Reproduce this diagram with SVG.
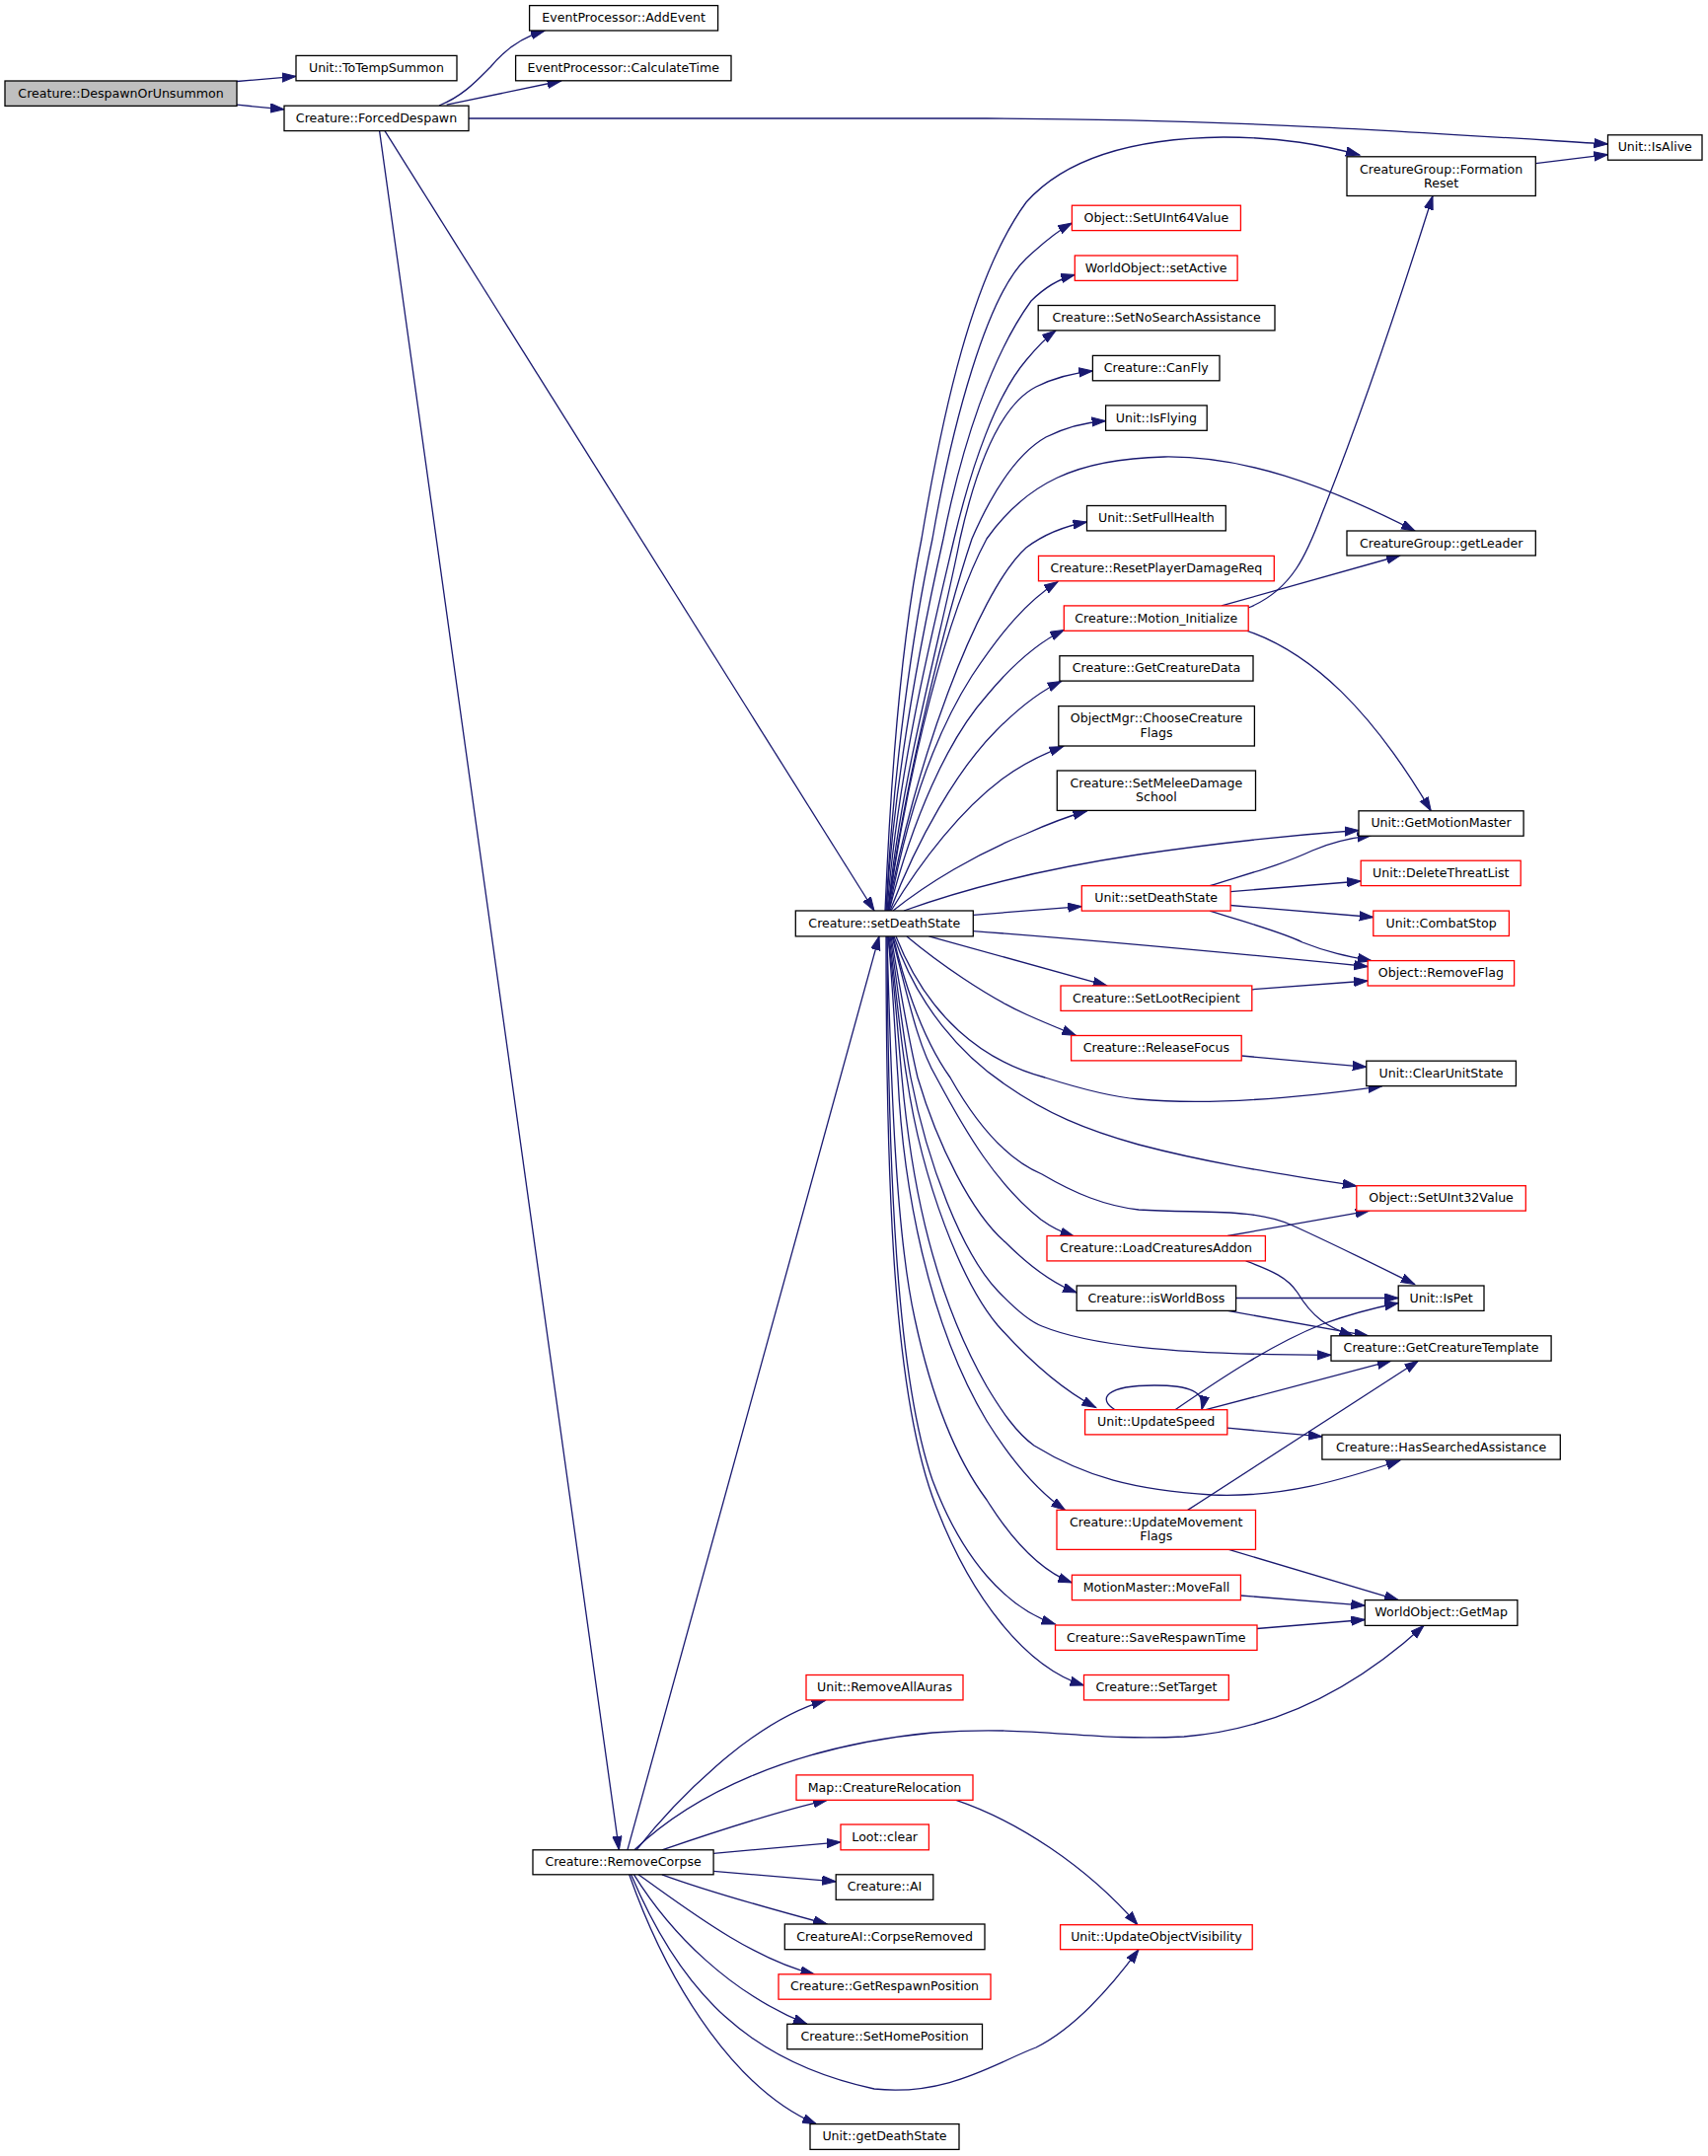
<svg xmlns="http://www.w3.org/2000/svg" width="1731" height="2185" viewBox="0 0 1731 2185">
<defs>
<marker id="ah" markerWidth="16" markerHeight="12" refX="14" refY="5" orient="auto" markerUnits="userSpaceOnUse"><path d="M0,0.4 L14,5 L0,9.6 Z" fill="#191970" stroke="#191970" stroke-width="1"/></marker>
</defs>
<style>
.n rect{fill:#ffffff;stroke:#000000;stroke-width:1.3}
.n.r rect{stroke:#ff0000}
.n.root rect{fill:#bfbfbf;stroke:#000000}
.n text{font-family:"DejaVu Sans","Liberation Sans",sans-serif;font-size:12.6px;text-anchor:middle;fill:#000000}
#edges path{fill:none;stroke:#191970;stroke-width:1.3;marker-end:url(#ah)}
</style>
<rect x="0" y="0" width="1731" height="2185" fill="#ffffff"/>
<g id="edges">
<path d="M240,82.5 L300,77.3"/>
<path d="M240,106.2 L288,110.8"/>
<path d="M445,107 C470,97 485,80 497,68 C510,52 528,38 552,31.2"/>
<path d="M452.7,106.2 L568.6,82"/>
<path d="M475,120 L1000,120 C1250,121 1420,133 1629.5,146"/>
<path d="M390,132.7 L886,923"/>
<path d="M384.6,132.7 L627.4,1874.8"/>
<path d="M1556.3,165.7 L1629.5,156.7"/>
<path d="M897,923 C903,780 915,640 934,546 C955,420 985,280 1040,205 C1080,160 1150,140 1240,139 C1300,139 1340,147 1378,157"/>
<path d="M898,923 C905,780 925,640 945,546 C965,430 1000,300 1040,262 C1055,248 1070,235 1086.4,226"/>
<path d="M898,923 C907,780 935,640 956,546 C975,450 1005,360 1045,305 C1058,292 1072,283 1089.3,278.5"/>
<path d="M899,923 C910,780 945,640 967,546 C985,470 1010,400 1040,365 C1050,353 1059,343 1070,335"/>
<path d="M900,923 C912,790 955,640 973,546 C990,470 1015,410 1050,392 C1070,382 1088,378 1107.4,376"/>
<path d="M900,923 C915,800 960,620 985,546 C1005,500 1030,460 1060,443 C1080,433 1100,428 1120.6,426.5"/>
<path d="M900,923 C920,780 960,620 1000,546 C1040,490 1090,465 1180,463 C1260,462 1340,490 1434,538"/>
<path d="M900,923 C925,780 990,600 1040,555 C1060,540 1080,533 1101.5,529"/>
<path d="M901,923 C920,820 950,740 985,685 C1015,640 1040,610 1072,589.5"/>
<path d="M901,923 C925,830 960,750 1000,705 C1025,675 1050,652 1078.3,638.5"/>
<path d="M902,923 C930,850 970,780 1010,740 C1035,715 1055,700 1075.7,690.5"/>
<path d="M903,923 C935,870 975,820 1015,790 C1035,775 1055,765 1077.5,756.5"/>
<path d="M905,923 C940,895 990,865 1040,845 C1060,836 1080,828 1101.5,822"/>
<path d="M916,923 C980,900 1060,880 1154,866 C1230,855 1300,847 1377,841.5"/>
<path d="M986.3,927.3 L1096.3,918.6"/>
<path d="M986.3,943.6 C1100,952 1250,966 1386.2,979.5"/>
<path d="M941.4,948.9 L1121.7,998.8"/>
<path d="M919,949 C950,975 1000,1010 1040,1028 C1060,1037 1075,1043 1090.4,1049.3"/>
<path d="M908,949 C940,1030 995,1075 1059,1092 C1100,1105 1130,1112 1154,1114 C1220,1120 1300,1115 1400.6,1100.8"/>
<path d="M906,949 C930,1020 975,1070 1020,1100 C1060,1128 1100,1145 1154,1160 C1230,1180 1300,1190 1374.8,1202"/>
<path d="M905,949 C920,1010 940,1060 963,1092 C990,1140 1020,1175 1056,1190 C1090,1210 1120,1222 1154,1226 C1220,1230 1270,1224 1310,1242 C1350,1260 1390,1280 1433.7,1301.5"/>
<path d="M904,949 C920,1010 930,1060 949,1092 C980,1150 1010,1200 1055,1236 C1066,1244 1076,1249 1088.6,1253"/>
<path d="M903,949 C912,1000 920,1050 930,1092 C950,1160 985,1230 1019,1259 C1040,1280 1065,1300 1091.2,1310"/>
<path d="M902,949 C910,1000 915,1050 923,1092 C940,1180 975,1270 1011,1308 C1030,1328 1045,1340 1056,1344 C1100,1362 1180,1373 1349,1373.3"/>
<path d="M901,949 C908,1000 912,1050 919,1092 C935,1200 975,1300 1011,1343 C1035,1370 1070,1405 1110.7,1426.5"/>
<path d="M900,949 C907,1000 910,1050 914,1092 C922,1180 940,1300 1000,1405 C1015,1430 1030,1452 1048,1465 C1100,1497 1150,1510 1228,1515 C1300,1518 1360,1500 1419,1480"/>
<path d="M900,949 C905,1000 907,1050 910,1092 C915,1200 940,1340 1000,1440 C1025,1480 1050,1510 1079.4,1530.4"/>
<path d="M899,949 C903,1100 908,1250 927,1336 C945,1420 970,1480 1000,1520 C1025,1560 1055,1592 1086.4,1604"/>
<path d="M899,949 C900,1200 910,1400 945,1500 C975,1580 1020,1630 1069.5,1646"/>
<path d="M898,949 C898,1200 905,1420 950,1530 C985,1620 1040,1690 1098.5,1708"/>
<path d="M1265,616 C1310,598 1325,560 1340,520 C1380,420 1420,300 1452,198.5"/>
<path d="M1238,613.9 L1419,563"/>
<path d="M1264,639.3 C1330,662 1390,720 1450.3,821.8"/>
<path d="M1226,897.7 C1270,884 1300,876 1330,862 C1350,853 1370,849 1389.6,846.8"/>
<path d="M1247.1,903.6 L1379.2,893"/>
<path d="M1247.1,917.5 L1391.8,929.5"/>
<path d="M1226,923.1 C1270,937 1300,945 1320,955 C1345,965 1365,969 1390,973.6"/>
<path d="M1268.8,1002.8 L1386.2,994"/>
<path d="M1258.2,1070 L1384.8,1081.3"/>
<path d="M1244.2,1252.5 L1387.7,1227.1"/>
<path d="M1262.6,1277.9 C1290,1288 1305,1295 1315,1310 C1330,1335 1345,1345 1371.2,1353.8"/>
<path d="M1252.6,1315.5 L1417.2,1315.5"/>
<path d="M1244.2,1328.4 L1386.6,1353.8"/>
<path d="M1130,1428.7 C1112,1418 1120,1404 1170,1404 C1205,1404 1222,1410 1218,1428.7"/>
<path d="M1191,1428.7 C1240,1395 1290,1362 1340,1342 C1370,1331 1395,1325 1417.2,1320.5"/>
<path d="M1222,1428.7 L1409.8,1379.2"/>
<path d="M1243.8,1447.2 L1339.9,1455.9"/>
<path d="M1203.7,1530.4 L1437.4,1379.2"/>
<path d="M1245.3,1570.4 L1417.2,1621.6"/>
<path d="M1257.4,1617 L1383.3,1627.2"/>
<path d="M1274,1650.5 L1383.3,1641.5"/>
<path d="M635.9,1874.8 L891,948.9"/>
<path d="M645,1874.8 C680,1830 760,1745 836.5,1723.3"/>
<path d="M643,1874.8 C700,1820 800,1770 945,1756 C1050,1748 1100,1765 1200,1760 C1300,1752 1380,1705 1443,1647.4"/>
<path d="M670.9,1874.8 C720,1858 790,1835 838.3,1824.3"/>
<path d="M723.1,1878.3 L852,1866.8"/>
<path d="M723.1,1896.4 L847.2,1906.8"/>
<path d="M670.9,1899.8 C720,1918 790,1937 838.3,1950"/>
<path d="M647,1899.8 C690,1930 760,1985 825.4,2000.8"/>
<path d="M642.5,1899.8 C680,1960 740,2020 818,2051.3"/>
<path d="M639.6,1899.8 C690,2020 760,2090 886,2117 C960,2125 1010,2090 1050,2075 C1090,2055 1125,2015 1154,1975.7"/>
<path d="M637.7,1899.8 C680,2020 750,2120 827.3,2152.6"/>
<path d="M969,1824.3 C1030,1845 1100,1890 1153,1950.7"/>
</g>
<g id="n1" class="n root"><rect x="5" y="82" width="235" height="25.4"/><text x="122.5" y="98.6">Creature::DespawnOrUnsummon</text></g>
<g id="n2" class="n"><rect x="300" y="56.4" width="163" height="25.4"/><text x="381.5" y="73">Unit::ToTempSummon</text></g>
<g id="n3" class="n"><rect x="288" y="107.2" width="187" height="25.4"/><text x="381.5" y="123.8">Creature::ForcedDespawn</text></g>
<g id="n4" class="n"><rect x="536.6" y="5.6" width="191" height="25.4"/><text x="632.1" y="22.2">EventProcessor::AddEvent</text></g>
<g id="n5" class="n"><rect x="522.6" y="56.4" width="218.4" height="25.4"/><text x="631.8" y="73">EventProcessor::CalculateTime</text></g>
<g id="n6" class="n"><rect x="1629.5" y="136.8" width="95.5" height="25.4"/><text x="1677.25" y="153.4">Unit::IsAlive</text></g>
<g id="n7" class="n"><rect x="1365" y="158.8" width="191.3" height="39.7"/><text x="1460.65" y="175.6">CreatureGroup::Formation</text><text x="1460.65" y="189.8">Reset</text></g>
<g id="n8" class="n"><rect x="1365" y="538" width="191.3" height="25"/><text x="1460.65" y="554.6">CreatureGroup::getLeader</text></g>
<g id="n9" class="n r"><rect x="1086.4" y="208.2" width="171" height="25.4"/><text x="1171.9" y="224.8">Object::SetUInt64Value</text></g>
<g id="n10" class="n r"><rect x="1089.3" y="259" width="164.8" height="25.4"/><text x="1171.7" y="275.6">WorldObject::setActive</text></g>
<g id="n11" class="n"><rect x="1052.2" y="309.5" width="239.8" height="25.4"/><text x="1172.1" y="326.1">Creature::SetNoSearchAssistance</text></g>
<g id="n12" class="n"><rect x="1107.4" y="360.4" width="128.6" height="25.4"/><text x="1171.7" y="377">Creature::CanFly</text></g>
<g id="n13" class="n"><rect x="1120.6" y="410.9" width="102.6" height="25.4"/><text x="1171.9" y="427.5">Unit::IsFlying</text></g>
<g id="n14" class="n"><rect x="1101.5" y="512.5" width="140.8" height="25.4"/><text x="1171.9" y="529.1">Unit::SetFullHealth</text></g>
<g id="n15" class="n r"><rect x="1052.5" y="563.4" width="238.8" height="25.4"/><text x="1171.9" y="580">Creature::ResetPlayerDamageReq</text></g>
<g id="n16" class="n r"><rect x="1078.3" y="613.9" width="186.9" height="25.4"/><text x="1171.75" y="630.5">Creature::Motion_Initialize</text></g>
<g id="n17" class="n"><rect x="1073.9" y="664.7" width="196.1" height="25.4"/><text x="1171.95" y="681.3">Creature::GetCreatureData</text></g>
<g id="n18" class="n"><rect x="1072.8" y="715.6" width="198.6" height="40.4"/><text x="1172.1" y="732.4">ObjectMgr::ChooseCreature</text><text x="1172.1" y="746.6">Flags</text></g>
<g id="n19" class="n"><rect x="1071.3" y="781" width="201.2" height="40.4"/><text x="1171.9" y="797.8">Creature::SetMeleeDamage</text><text x="1171.9" y="812">School</text></g>
<g id="n20" class="n r"><rect x="1096.3" y="897.7" width="150.8" height="25.4"/><text x="1171.7" y="914.3">Unit::setDeathState</text></g>
<g id="n21" class="n r"><rect x="1075" y="999" width="193.8" height="25.4"/><text x="1171.9" y="1015.6">Creature::SetLootRecipient</text></g>
<g id="n22" class="n r"><rect x="1085.6" y="1049.5" width="172.6" height="25.4"/><text x="1171.9" y="1066.1">Creature::ReleaseFocus</text></g>
<g id="n23" class="n"><rect x="806.3" y="923" width="180" height="25.9"/><text x="896.3" y="939.8">Creature::setDeathState</text></g>
<g id="n24" class="n"><rect x="1377" y="821.8" width="167.1" height="25.4"/><text x="1460.55" y="838.4">Unit::GetMotionMaster</text></g>
<g id="n25" class="n r"><rect x="1379.2" y="872.2" width="162" height="25.4"/><text x="1460.2" y="888.8">Unit::DeleteThreatList</text></g>
<g id="n26" class="n r"><rect x="1391.8" y="923.1" width="137.6" height="25.4"/><text x="1460.6" y="939.7">Unit::CombatStop</text></g>
<g id="n27" class="n r"><rect x="1386.2" y="973.6" width="148.4" height="25.4"/><text x="1460.4" y="990.2">Object::RemoveFlag</text></g>
<g id="n28" class="n"><rect x="1384.8" y="1075.2" width="151.6" height="25.4"/><text x="1460.6" y="1091.8">Unit::ClearUnitState</text></g>
<g id="n29" class="n r"><rect x="1374.8" y="1201.7" width="171.5" height="25.4"/><text x="1460.55" y="1218.3">Object::SetUInt32Value</text></g>
<g id="n30" class="n"><rect x="1417.2" y="1303" width="86.8" height="25.4"/><text x="1460.6" y="1319.6">Unit::IsPet</text></g>
<g id="n31" class="n"><rect x="1349" y="1353.8" width="223.1" height="25.4"/><text x="1460.55" y="1370.4">Creature::GetCreatureTemplate</text></g>
<g id="n32" class="n"><rect x="1339.9" y="1454.1" width="241.4" height="25"/><text x="1460.6" y="1470.7">Creature::HasSearchedAssistance</text></g>
<g id="n33" class="n"><rect x="1383.3" y="1621.6" width="154.6" height="25.8"/><text x="1460.6" y="1638.2">WorldObject::GetMap</text></g>
<g id="n34" class="n r"><rect x="1061" y="1252.5" width="221.4" height="25.4"/><text x="1171.7" y="1269.1">Creature::LoadCreaturesAddon</text></g>
<g id="n35" class="n"><rect x="1091.2" y="1303" width="161.4" height="25.4"/><text x="1171.9" y="1319.6">Creature::isWorldBoss</text></g>
<g id="n36" class="n r"><rect x="1099.6" y="1428.7" width="144.2" height="25.2"/><text x="1171.7" y="1445.3">Unit::UpdateSpeed</text></g>
<g id="n37" class="n r"><rect x="1071" y="1530.4" width="201.5" height="40"/><text x="1171.75" y="1547.2">Creature::UpdateMovement</text><text x="1171.75" y="1561.4">Flags</text></g>
<g id="n38" class="n r"><rect x="1086.4" y="1596.2" width="171" height="25.4"/><text x="1171.9" y="1612.8">MotionMaster::MoveFall</text></g>
<g id="n39" class="n r"><rect x="1069.5" y="1647" width="204.5" height="25.4"/><text x="1171.75" y="1663.6">Creature::SaveRespawnTime</text></g>
<g id="n40" class="n r"><rect x="1098.5" y="1697.5" width="146.8" height="25.4"/><text x="1171.9" y="1714.1">Creature::SetTarget</text></g>
<g id="n41" class="n"><rect x="540" y="1874.8" width="183.1" height="25"/><text x="631.55" y="1891.4">Creature::RemoveCorpse</text></g>
<g id="n42" class="n r"><rect x="817" y="1697.5" width="159" height="25.4"/><text x="896.5" y="1714.1">Unit::RemoveAllAuras</text></g>
<g id="n43" class="n r"><rect x="807" y="1798.9" width="179" height="25.4"/><text x="896.5" y="1815.5">Map::CreatureRelocation</text></g>
<g id="n44" class="n r"><rect x="852" y="1849" width="89.4" height="25.8"/><text x="896.7" y="1865.6">Loot::clear</text></g>
<g id="n45" class="n"><rect x="847.2" y="1899.8" width="98.6" height="25.5"/><text x="896.5" y="1916.4">Creature::AI</text></g>
<g id="n46" class="n"><rect x="795.3" y="1950" width="202.7" height="25.7"/><text x="896.65" y="1966.6">CreatureAI::CorpseRemoved</text></g>
<g id="n47" class="n r"><rect x="789" y="2000.8" width="215" height="25.4"/><text x="896.5" y="2017.4">Creature::GetRespawnPosition</text></g>
<g id="n48" class="n"><rect x="797.8" y="2051.3" width="197.7" height="25.4"/><text x="896.65" y="2067.9">Creature::SetHomePosition</text></g>
<g id="n49" class="n"><rect x="821" y="2152.6" width="151" height="25.8"/><text x="896.5" y="2169.2">Unit::getDeathState</text></g>
<g id="n50" class="n r"><rect x="1074.6" y="1950.7" width="194.6" height="25"/><text x="1171.9" y="1967.3">Unit::UpdateObjectVisibility</text></g>
</svg>
